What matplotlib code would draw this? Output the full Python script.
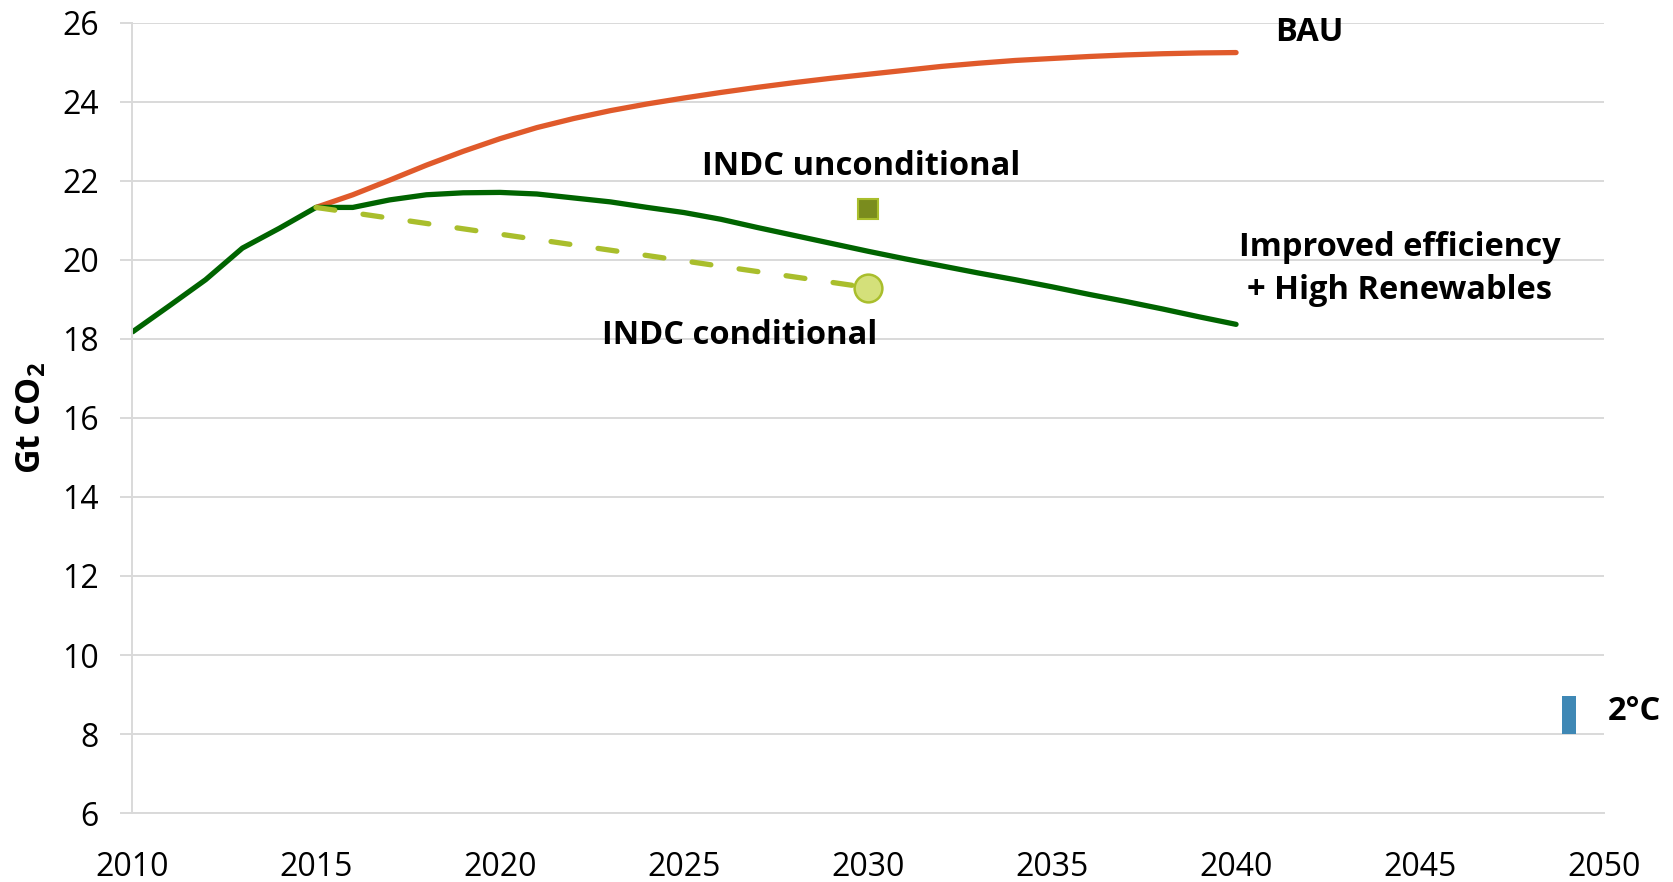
import matplotlib
matplotlib.use("Agg")
import matplotlib.pyplot as plt

plt.rcParams['font.family'] = ['Open Sans', 'DejaVu Sans']
plt.rcParams['mathtext.fontset'] = 'custom'
plt.rcParams['mathtext.rm'] = 'Open Sans'
plt.rcParams['mathtext.bf'] = 'Open Sans:bold'

# emissions pathways (Gt CO2)
hist_years = [2010, 2011, 2012, 2013, 2014, 2015]
hist_vals = [18.17, 18.83, 19.5, 20.3, 20.8, 21.33]

eff_years = list(range(2015, 2041))
eff_vals = [21.33, 21.33, 21.52, 21.65, 21.7, 21.71, 21.67, 21.57, 21.47, 21.33,
            21.2, 21.03, 20.82, 20.62, 20.42, 20.22, 20.03, 19.85, 19.67, 19.5,
            19.32, 19.13, 18.95, 18.76, 18.56, 18.37]

bau_years = list(range(2015, 2041))
bau_vals = [21.33, 21.65, 22.02, 22.4, 22.75, 23.07, 23.35, 23.58, 23.78, 23.95,
            24.1, 24.24, 24.37, 24.49, 24.6, 24.7, 24.8, 24.9, 24.98, 25.05,
            25.1, 25.15, 25.19, 25.22, 25.24, 25.25]

cond_years = [2015, 2030]
cond_vals = [21.33, 19.3]
uncond_year, uncond_val = 2030, 21.3
two_deg_year, two_deg_lo, two_deg_hi = 2049.05, 8.0, 8.95

fig = plt.figure(figsize=(16.73, 8.82), dpi=100)
ax = fig.add_axes([0.0789, 0.0782, 0.8799, 0.8958])

grid_c = '#D9D9D9'
ax.set_xlim(2010, 2050)
ax.set_ylim(6, 26)
ax.set_yticks(range(6, 27, 2))
ax.set_xticks(range(2010, 2051, 5))
ax.yaxis.grid(True, color=grid_c, linewidth=1.4)
ax.set_axisbelow(True)
for s in ['top', 'right']:
    ax.spines[s].set_visible(False)
ax.spines['left'].set_color(grid_c)
ax.spines['left'].set_linewidth(1.4)
ax.spines['bottom'].set_color(grid_c)
ax.spines['bottom'].set_linewidth(1.4)
ax.tick_params(axis='y', length=9, width=1.4, color=grid_c, labelsize=23, pad=15)
ax.tick_params(axis='x', length=0, labelsize=23, pad=27)

green = '#006400'
lw = 3.8
ax.plot(bau_years, bau_vals, color='#E05A2B', lw=lw, solid_capstyle='round',
        solid_joinstyle='round')
ax.plot(hist_years, hist_vals, color=green, lw=lw, solid_capstyle='butt',
        solid_joinstyle='round')
ax.plot(eff_years, eff_vals, color=green, lw=lw, solid_capstyle='round',
        solid_joinstyle='round')
ax.plot(cond_years, cond_vals, color='#A9BE2C', lw=lw, dashes=(3.6, 5.4),
        dash_capstyle='round')
ax.plot([uncond_year], [uncond_val], marker='s', ms=15, mfc='#7A8C1E',
        mec='#A9BE2C', mew=1.5, ls='none')
ax.plot([cond_years[-1]], [cond_vals[-1]], marker='o', ms=20, mfc='#D4E07A',
        mec='#A9BE2C', mew=1.8, ls='none', zorder=5)
ax.bar([two_deg_year], [two_deg_hi - two_deg_lo], bottom=two_deg_lo, width=0.38,
       color='#3F88B5', zorder=4)

fs = 23.5
ax.text(2041.05, 25.75, 'BAU', fontsize=fs, fontweight='bold', va='center', ha='left')
ax.text(2029.8, 22.37, 'INDC unconditional', fontsize=fs, fontweight='bold',
        va='center', ha='center')
ax.text(2044.45, 19.76, 'Improved efficiency\n+ High Renewables', fontsize=fs,
        fontweight='bold', va='center', ha='center', multialignment='center',
        linespacing=1.4)
ax.text(2026.5, 18.1, 'INDC conditional', fontsize=fs, fontweight='bold',
        va='center', ha='center')
ax.text(2050.1, 8.56, '2°C', fontsize=fs, fontweight='bold', va='center', ha='left',
        clip_on=False)

ax.set_ylabel(r'Gt CO$_\mathbf{2}$', fontsize=24.5, fontweight='bold', labelpad=10)

fig.savefig('out.png', dpi=100)
